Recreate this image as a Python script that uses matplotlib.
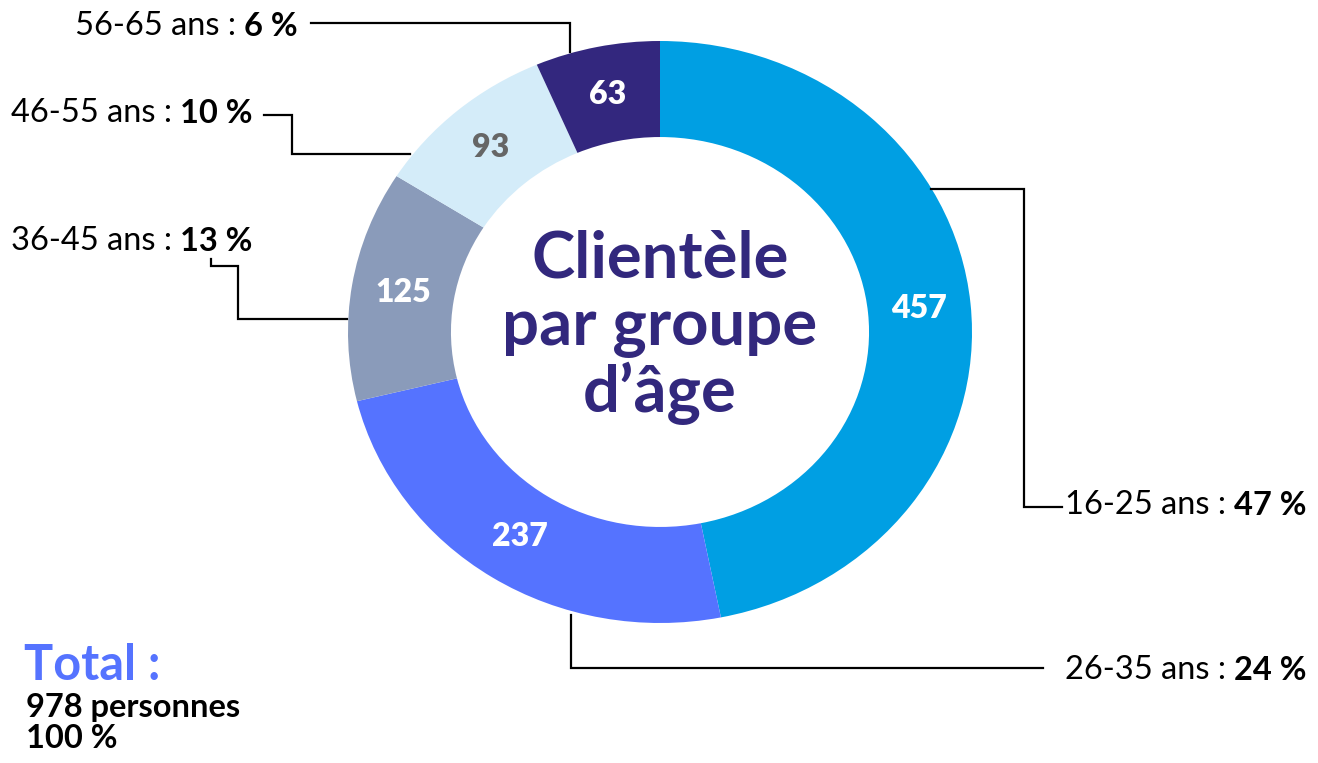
import numpy as np
import matplotlib.pyplot as plt

plt.rcParams['font.family'] = ['Lato', 'DejaVu Sans']

# data
groups = ['16-25 ans', '26-35 ans', '36-45 ans', '46-55 ans', '56-65 ans']
counts = [457, 237, 125, 93, 63]
total = 978
colors = ['#009FE3', '#5573FF', '#8A9BBA', '#D4ECF9', '#33277E']
num_colors = ['white', 'white', 'white', '#666666', 'white']
pcts = [round(c * 100 / total) for c in counts]

fig = plt.figure(figsize=(13.18, 7.63), dpi=100)

# donut (slightly wider than tall, like the original)
pie_ax = fig.add_axes([348 / 1318, 140 / 763, 624 / 1318, 582 / 763])
wedges, _ = pie_ax.pie(counts, colors=colors, startangle=90, counterclock=False,
                       radius=1, wedgeprops=dict(width=0.33, edgecolor='none'))
pie_ax.set_xlim(-1, 1)
pie_ax.set_ylim(-1, 1)
pie_ax.set_aspect('auto')
pie_ax.axis('off')

for w, n, c in zip(wedges, counts, num_colors):
    ang = np.deg2rad((w.theta1 + w.theta2) / 2)
    pie_ax.text(0.835 * np.cos(ang), 0.835 * np.sin(ang), str(n), ha='center', va='center',
                fontsize=23, fontweight='heavy', color=c)

# overlay in pixel coords for labels and connectors
ax = fig.add_axes([0, 0, 1, 1])
ax.set_xlim(0, 1318)
ax.set_ylim(763, 0)
ax.axis('off')
ax.patch.set_alpha(0)

FS = 23.5

def label(x, y, group, p, side):
    if side == 'left':
        t = ax.text(x, y, group + ' : ', ha='left', va='baseline', fontsize=FS)
        ax.annotate('%d %%' % p, xy=(1, 0), xycoords=t, ha='left', va='bottom',
                    fontsize=FS, fontweight='bold')
    else:
        t = ax.text(x, y, '%d %%' % p, ha='right', va='baseline', fontsize=FS, fontweight='bold')
        ax.annotate(group + ' : ', xy=(0, 0), xycoords=t, ha='right', va='bottom', fontsize=FS)

label(1307, 515, groups[0], pcts[0], 'right')
label(1307, 680, groups[1], pcts[1], 'right')
label(11, 250, groups[2], pcts[2], 'left')
label(11, 122, groups[3], pcts[3], 'left')
label(75, 35, groups[4], pcts[4], 'left')

connectors = [
    [(931, 189), (1024, 189), (1024, 507), (1062, 507)],
    [(571, 615), (571, 668), (1043, 668)],
    [(347, 319), (238, 319), (238, 266), (211, 266), (211, 259)],
    [(410, 154), (292, 154), (292, 115), (264, 115)],
    [(570, 52), (570, 23), (311, 23)],
]
for pts in connectors:
    xs, ys = zip(*pts)
    ax.plot(xs, ys, color='black', lw=1.6, solid_joinstyle='miter')

# title in the hole
title_color = '#32287D'
for txt, yb in zip(['Clientèle', 'par groupe', 'd’âge'], [277, 345, 412]):
    ax.text(660, yb, txt, ha='center', va='baseline', fontsize=47, fontweight='bold',
            color=title_color)

# total block
ax.text(24, 680, 'Total :', ha='left', va='baseline', fontsize=35, fontweight='bold',
        color='#5573FF')
ax.text(26, 717, '%d personnes' % total, ha='left', va='baseline', fontsize=23.5,
        fontweight='bold')
ax.text(26, 748, '100 %', ha='left', va='baseline', fontsize=23.5, fontweight='bold')

fig.savefig('out.png', dpi=100)
